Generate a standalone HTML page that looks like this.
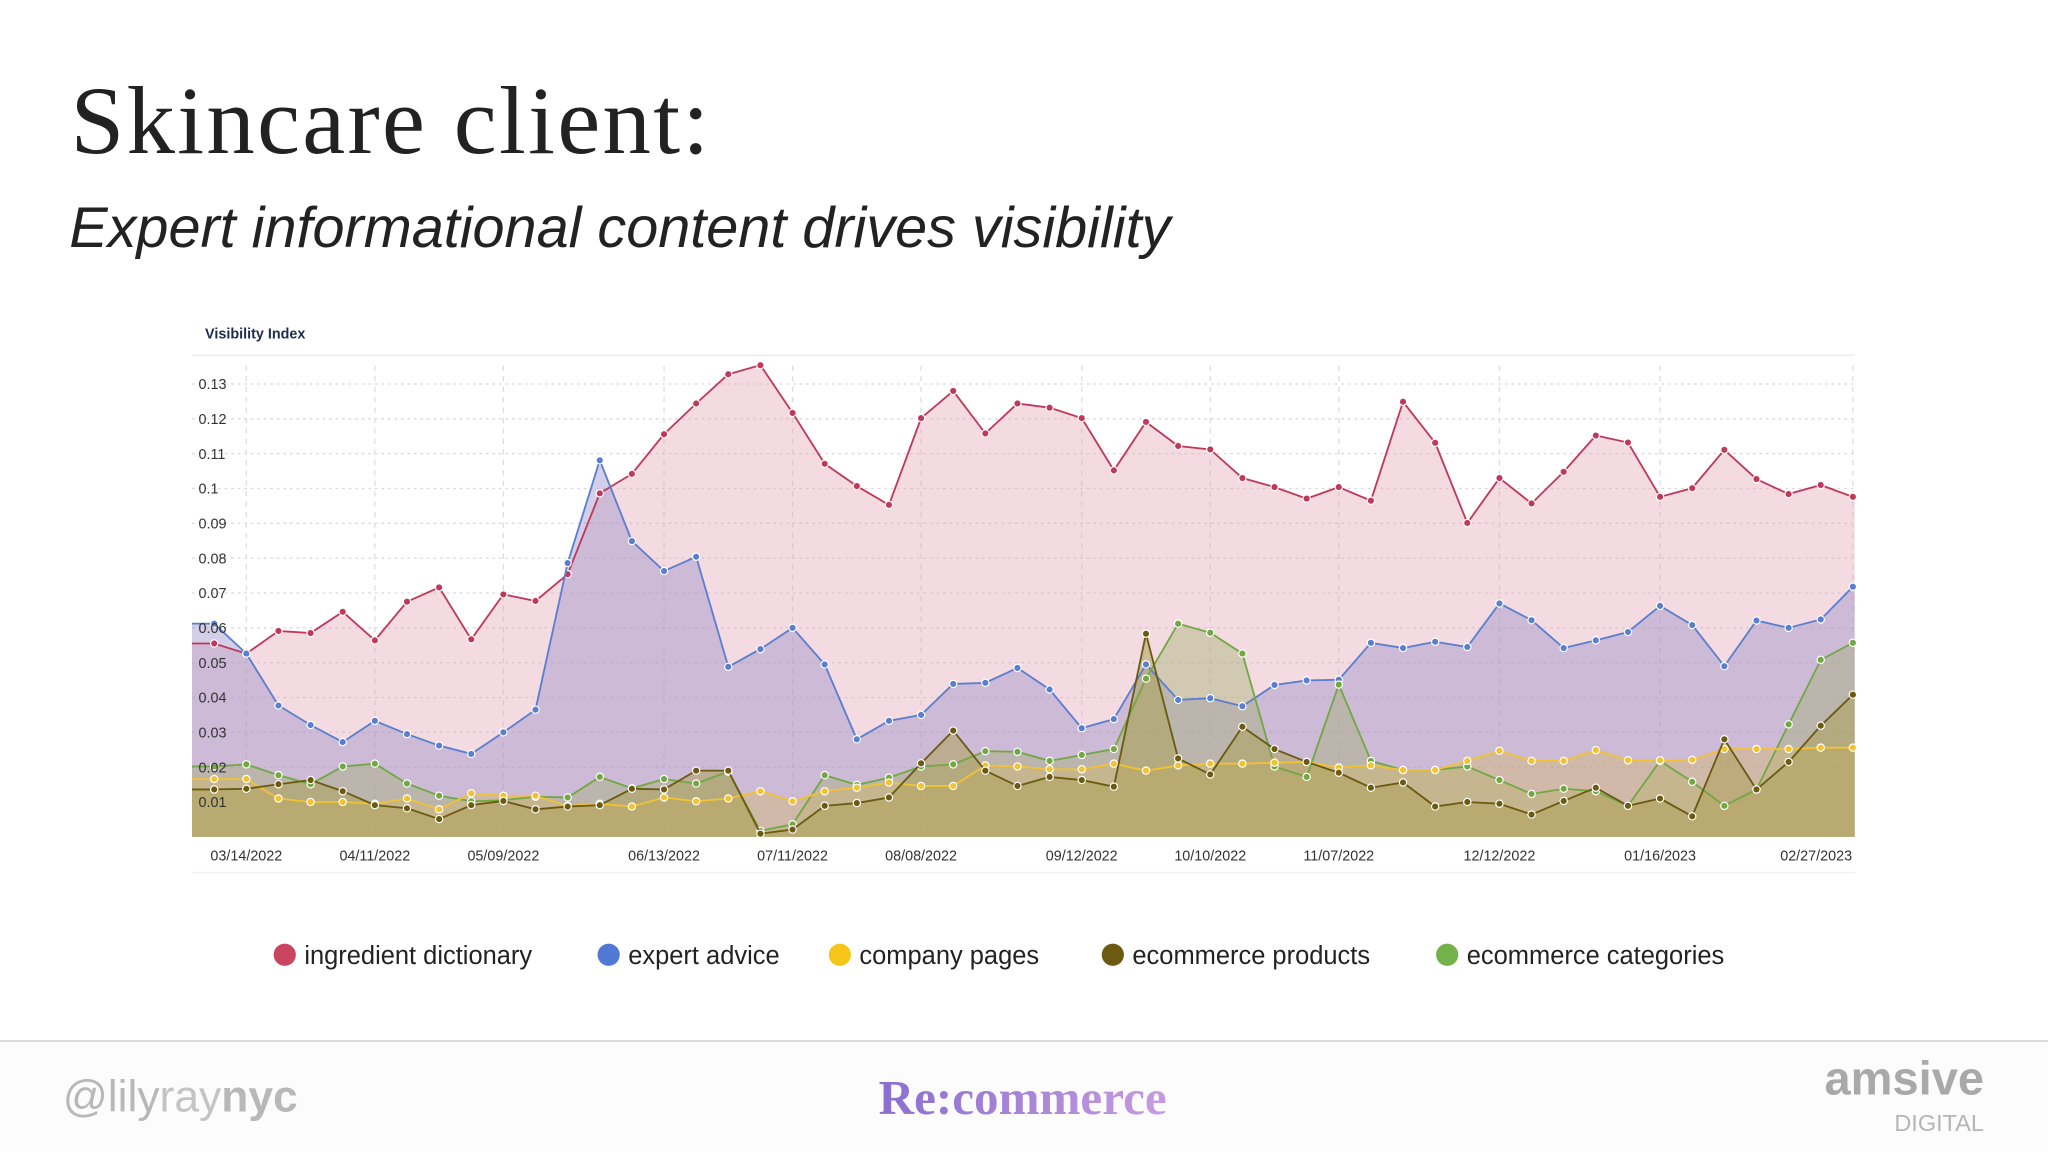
<!DOCTYPE html>
<html><head><meta charset="utf-8">
<style>
html,body{margin:0;padding:0;background:#fff;}
svg{display:block;}
text{font-family:"Liberation Sans",sans-serif;}
text.serif{font-family:"Liberation Serif",serif;}
</style></head>
<body>
<svg id="s" width="2048" height="1152" viewBox="0 0 1568 882" xmlns="http://www.w3.org/2000/svg">
<defs>
<linearGradient id="rg" x1="0" x2="1"><stop offset="0" stop-color="#8a6fd0"/><stop offset="1" stop-color="#c79be0"/></linearGradient>
</defs>
<rect width="1568" height="882" fill="#fff"/>
<text class="serif" x="54" y="117" font-size="74" textLength="489" lengthAdjust="spacing" fill="#222">Skincare client:</text>
<text x="53" y="189" font-size="44.1" font-style="italic" fill="#222">Expert informational content drives visibility</text>
<text x="157" y="259" font-size="11" font-weight="bold" fill="#1f2d4d">Visibility Index</text>
<line x1="147" y1="272" x2="1420" y2="272" stroke="#eef0f3" stroke-width="1.5"/>
<g id="grid"></g>
<g id="areas"></g>
<g id="lines"></g>
<g id="axes"></g>
<g id="legend"></g>
<rect x="0" y="797" width="1568" height="85" fill="#fcfcfc"/>
<line x1="0" y1="797" x2="1568" y2="797" stroke="#dcdcdc" stroke-width="1.5"/>
<text x="48" y="851" font-size="34" fill="#b8b8b8">@lily<tspan fill="#c4c4c4">ray</tspan><tspan font-weight="bold" fill="#b8b8b8">nyc</tspan></text>
<text class="serif" x="783" y="853" text-anchor="middle" font-size="37.6" font-weight="bold" fill="url(#rg)">Re:commerce</text>
<text x="1519" y="838" text-anchor="end" font-size="36" font-weight="bold" fill="#a9a9a9">amsive</text>
<text x="1519" y="866" text-anchor="end" font-size="18" fill="#b5b5b5">DIGITAL</text>
</svg>
<script>
const seriesNames=["ingredient dictionary","expert advice","company pages","ecommerce products","ecommerce categories"];
const ingredient=[0.0555,0.0526,0.0591,0.0585,0.0646,0.0564,0.0675,0.0716,0.0567,0.0696,0.0677,0.0754,0.0986,0.1042,0.1156,0.1244,0.1328,0.1354,0.1217,0.1071,0.1007,0.0953,0.1202,0.1280,0.1158,0.1244,0.1232,0.1202,0.1052,0.1191,0.1122,0.1112,0.1030,0.1004,0.0971,0.1004,0.0965,0.1249,0.1131,0.0901,0.1030,0.0957,0.1048,0.1152,0.1132,0.0976,0.1001,0.1111,0.1027,0.0984,0.1010,0.0976];
const expert=[0.0612,0.0526,0.0377,0.0321,0.0272,0.0333,0.0295,0.0262,0.0238,0.0300,0.0365,0.0786,0.1081,0.0849,0.0763,0.0804,0.0488,0.0539,0.0600,0.0495,0.0280,0.0333,0.0350,0.0439,0.0442,0.0485,0.0423,0.0312,0.0338,0.0495,0.0393,0.0398,0.0375,0.0436,0.0449,0.0451,0.0557,0.0542,0.0560,0.0545,0.0670,0.0622,0.0542,0.0564,0.0588,0.0663,0.0608,0.0490,0.0621,0.0600,0.0624,0.0718];
const company=[0.0166,0.0166,0.0110,0.0100,0.0100,0.0095,0.0110,0.0079,0.0125,0.0118,0.0118,0.0089,0.0095,0.0087,0.0113,0.0102,0.0110,0.0131,0.0102,0.0131,0.0141,0.0156,0.0146,0.0146,0.0205,0.0202,0.0194,0.0194,0.0210,0.0190,0.0205,0.0210,0.0210,0.0213,0.0215,0.0199,0.0205,0.0192,0.0192,0.0218,0.0247,0.0218,0.0218,0.0249,0.0220,0.0220,0.0221,0.0252,0.0252,0.0252,0.0256,0.0256];
const products=[0.0136,0.0138,0.0151,0.0163,0.0131,0.0091,0.0082,0.0051,0.0091,0.0103,0.0079,0.0087,0.0091,0.0138,0.0136,0.0190,0.0190,0.0009,0.0021,0.0089,0.0097,0.0113,0.0211,0.0305,0.0190,0.0146,0.0172,0.0163,0.0144,0.0583,0.0225,0.0179,0.0316,0.0252,0.0215,0.0184,0.0141,0.0156,0.0087,0.0100,0.0095,0.0064,0.0103,0.0141,0.0089,0.0110,0.0059,0.0280,0.0136,0.0215,0.0319,0.0408];
const categories=[0.0202,0.0208,0.0177,0.0151,0.0202,0.0210,0.0153,0.0118,0.0102,0.0105,0.0115,0.0113,0.0172,0.0139,0.0166,0.0153,0.0187,0.0017,0.0036,0.0177,0.0149,0.0170,0.0202,0.0208,0.0246,0.0244,0.0218,0.0235,0.0252,0.0454,0.0612,0.0586,0.0526,0.0202,0.0172,0.0437,0.0218,0.0192,0.0192,0.0202,0.0163,0.0123,0.0138,0.0131,0.0089,0.0218,0.0158,0.0089,0.0136,0.0323,0.0508,0.0557];
const yTicks=[0.01,0.02,0.03,0.04,0.05,0.06,0.07,0.08,0.09,0.1,0.11,0.12,0.13];
const xLabels=["03/14/2022","04/11/2022","05/09/2022","06/13/2022","07/11/2022","08/08/2022","09/12/2022","10/10/2022","11/07/2022","12/12/2022","01/16/2023","02/27/2023"];
const xLabelIdx=[1,5,9,14,18,22,27,31,35,40,45,51];

const NS="http://www.w3.org/2000/svg";
const X0=164,DX=24.6,LEFT=147,RIGHT=1420,BASE=640.7,PER=2667;
const xs=i=>X0+i*DX;
const ys=v=>BASE-v*PER;
function mk(tag,attrs,parent){const e=document.createElementNS(NS,tag);for(const k in attrs)e.setAttribute(k,attrs[k]);parent.appendChild(e);return e;}
const grid=document.getElementById('grid'),areas=document.getElementById('areas'),lines=document.getElementById('lines'),axes=document.getElementById('axes'),legend=document.getElementById('legend');

yTicks.forEach(t=>{
  const l=mk('line',{x1:LEFT,x2:RIGHT,y1:ys(t),y2:ys(t),stroke:'#d8d8de','stroke-dasharray':'2,3'},grid);
  
  
  const tx=mk('text',{x:152,y:ys(t)+4,'font-size':11,fill:'#333'},axes);
  tx.textContent=String(t);
  
  
});
xLabels.forEach((lab,k)=>{
  const x=xs(xLabelIdx[k]);
  const l=mk('line',{x1:x,x2:x,y1:280,y2:BASE,stroke:'#dcdce2','stroke-dasharray':'4,4'},grid);
  
  
  const anchorEnd=x+28>RIGHT;
  const tx=mk('text',{x:anchorEnd?RIGHT-2:x,y:659,'font-size':11,fill:'#333','text-anchor':anchorEnd?'end':'middle'},axes);
  tx.textContent=lab;
  
  
});
mk('line',{x1:LEFT,x2:RIGHT,y1:668,y2:668,stroke:'#eef0f3'},axes);

const defs=[
 {d:ingredient,line:'#c0395a',fill:'rgba(226,160,178,0.38)',name:'ingredient-dictionary'},
 {d:expert,line:'#5a7fcf',fill:'rgba(150,140,200,0.42)',name:'expert-advice'},
 {d:categories,line:'#72a844',fill:'rgba(160,175,110,0.40)',name:'ecommerce-categories'},
 {d:company,line:'#f1c232',fill:'rgba(215,185,95,0.38)',name:'company-pages'},
 {d:products,line:'#6b5a10',fill:'rgba(175,160,90,0.55)',name:'ecommerce-products'}
];
defs.forEach(s=>{
  let p=`M${LEFT},${BASE} L${LEFT},${ys(s.d[0])}`;
  s.d.forEach((v,i)=>{p+=` L${xs(i)},${ys(v)}`;});
  p+=` L${RIGHT},${ys(s.d[s.d.length-1])} L${RIGHT},${BASE} Z`;
  const a=mk('path',{d:p,fill:s.fill},areas);
  
  
  let lp=`M${LEFT},${ys(s.d[0])}`;
  s.d.forEach((v,i)=>{lp+=` L${xs(i)},${ys(v)}`;});
  const l=mk('path',{d:lp,fill:'none',stroke:s.line,'stroke-width':1.4},lines);
  
  
  s.d.forEach((v,i)=>{
    const c=mk('circle',{cx:xs(i),cy:ys(v),r:2.8,fill:s.line,stroke:'#fff','stroke-width':0.9},lines);
    
    
  });
});

const legendItems=[[218,'#c9445f',seriesNames[0]],[466,'#4f79d2',seriesNames[1]],[643,'#f5c518',seriesNames[2]],[852,'#6b5a10',seriesNames[3]],[1108,'#73b14a',seriesNames[4]]];
legendItems.forEach(([x,c,n])=>{
  const g=mk('g',{},legend);
  
  
  mk('circle',{cx:x,cy:731,r:8.5,fill:c},g);
  const t=mk('text',{x:x+15,y:738,'font-size':19.5,fill:'#222'},g);
  t.textContent=n;
});
</script>
</body></html>
